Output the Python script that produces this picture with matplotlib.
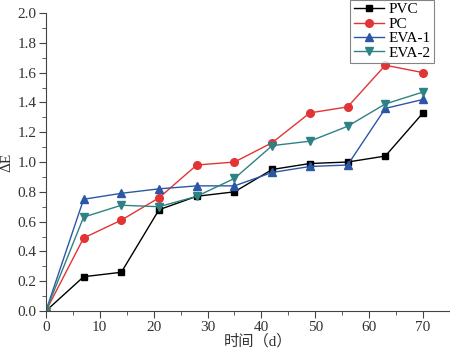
import matplotlib
matplotlib.use("Agg")
import matplotlib.pyplot as plt
from matplotlib.ticker import MultipleLocator, FormatStrFormatter

days = [0, 7, 14, 21, 28, 35, 42, 49, 56, 63, 70]
pvc = [0, 0.23, 0.26, 0.68, 0.77, 0.80, 0.95, 0.99, 1.00, 1.04, 1.33]
pc = [0, 0.49, 0.61, 0.76, 0.98, 1.00, 1.13, 1.33, 1.37, 1.65, 1.60]
eva1 = [0, 0.75, 0.79, 0.82, 0.84, 0.84, 0.93, 0.97, 0.98, 1.36, 1.42]
eva2 = [0, 0.63, 0.71, 0.70, 0.77, 0.89, 1.11, 1.14, 1.24, 1.39, 1.47]
xticks = [0, 10, 20, 30, 40, 50, 60, 70]

plt.rcParams['font.family'] = ['Liberation Serif', 'Noto Sans CJK SC']
plt.rcParams['font.size'] = 11

fig = plt.figure(figsize=(4.5, 3.53), dpi=100)
ax = fig.add_axes([0.102, 0.119, 0.898, 0.844])

ax.plot(days, pvc, color='black', marker='s', ms=5, lw=1, label='PVC')
ax.plot(days, pc, color='#e23434', marker='o', ms=5.5, lw=1, label='PC')
ax.plot(days, eva1, color='#2b57a6', marker='^', ms=6, lw=1, label='EVA-1')
ax.plot(days, eva2, color='#2e8283', marker='v', ms=6, lw=1, label='EVA-2')

ax.set_xlim(0, 75)
ax.set_ylim(0, 2.0)
ax.set_xticks(xticks)
ax.xaxis.set_minor_locator(MultipleLocator(5))
ax.yaxis.set_major_locator(MultipleLocator(0.2))
ax.yaxis.set_minor_locator(MultipleLocator(0.1))
ax.yaxis.set_major_formatter(FormatStrFormatter('%.1f'))
ax.spines['top'].set_visible(False)
ax.spines['right'].set_visible(False)
for s in ('left', 'bottom'):
    ax.spines[s].set_color('#444444')
ax.tick_params(which='major', direction='out', length=5, color='#444444', labelcolor='#333333', labelsize=11)
ax.tick_params(which='minor', direction='out', length=3, color='#444444')
ax.tick_params(axis='x', pad=2)
ax.tick_params(axis='y', pad=2)

ax.set_xlabel('时间（d）', fontsize=11, color='#333333')
ax.set_ylabel('ΔE', fontsize=11, color='#333333')
ax.xaxis.set_label_coords(0.525, -0.078)
ax.yaxis.set_label_coords(-0.08, 0.5)

leg = ax.legend(loc='upper right', bbox_to_anchor=(0.96, 1.045), frameon=True, fancybox=False,
                edgecolor='#666666', fontsize=11, handlelength=2.0, handletextpad=0.3,
                labelspacing=0.05, borderpad=0.2, borderaxespad=0)
leg.get_frame().set_linewidth(0.8)

fig.savefig('out.png', dpi=100)
